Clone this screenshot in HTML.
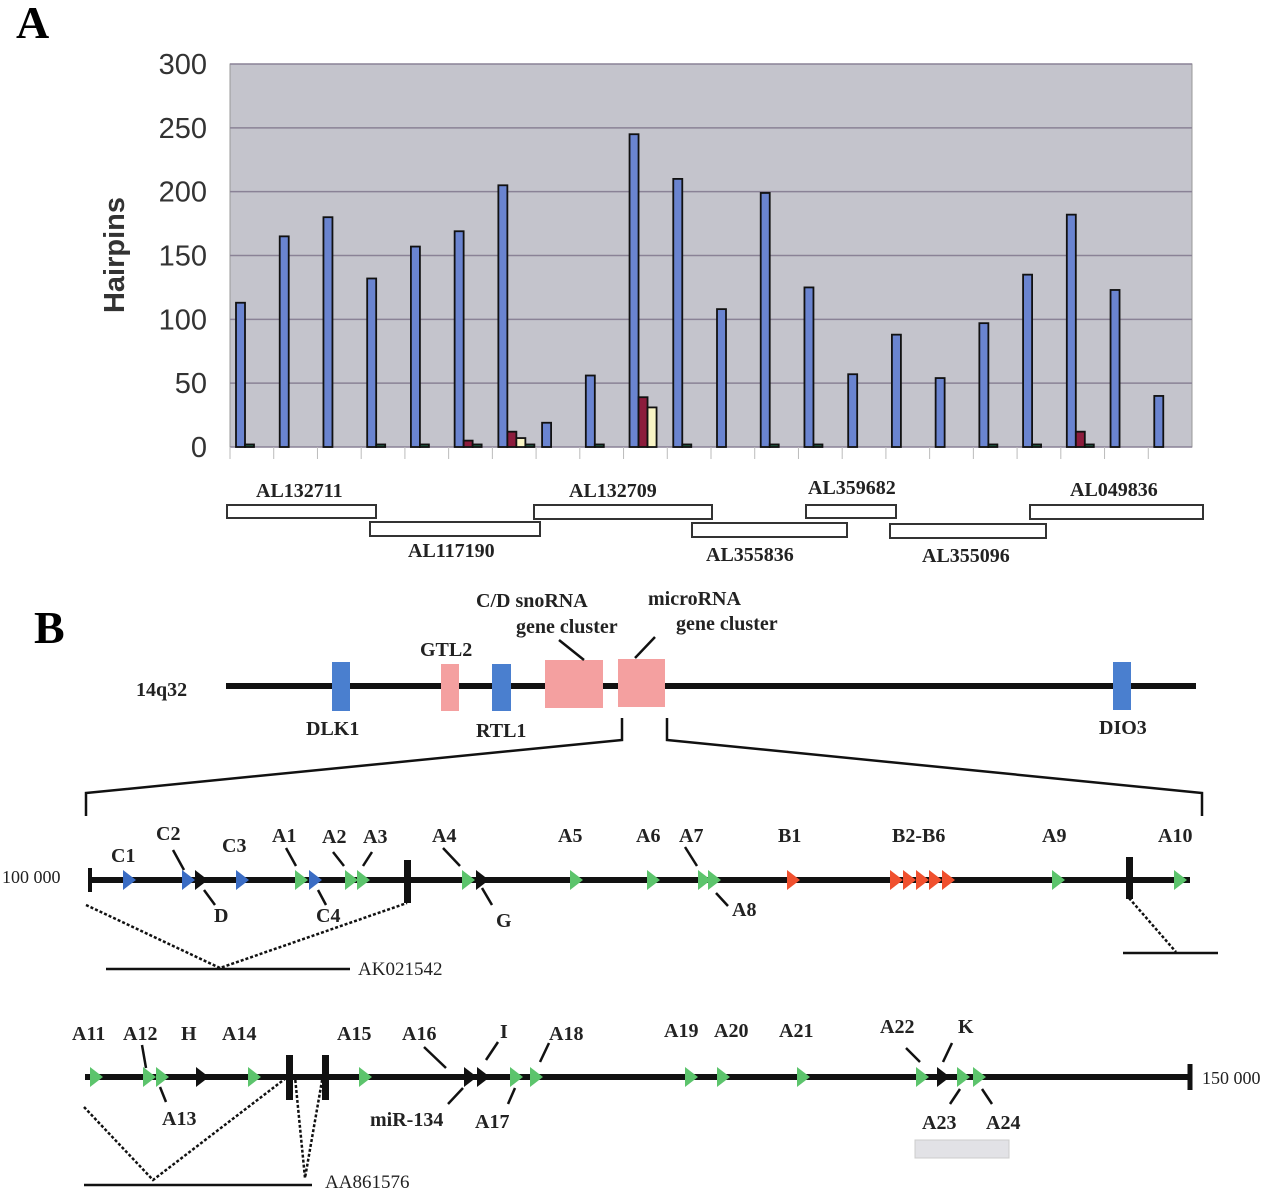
<!DOCTYPE html>
<html><head><meta charset="utf-8"><style>
body{margin:0;background:#fff;}
svg{display:block;font-family:"Liberation Serif",serif;}
.b{font-weight:bold;font-size:20px;fill:#222;}
.ax{font-family:"Liberation Sans",sans-serif;font-size:29px;fill:#333;}
</style></head><body>
<svg id="fig" width="1280" height="1191" viewBox="0 0 1280 1191" xmlns="http://www.w3.org/2000/svg">
<text x="16" y="38" font-size="46" font-weight="bold">A</text>
<rect x="230" y="64" width="962" height="383" fill="#c4c4cc" stroke="#999"/>
<g id="grid"></g>
<g id="yt"></g>
<text class="ax" font-weight="bold" font-size="30" transform="translate(124,255) rotate(-90)" text-anchor="middle">Hairpins</text>
<g id="bars"></g>
<g id="xt"></g>
<g fill="#fff" stroke="#333" stroke-width="2">
<rect x="227" y="505" width="149" height="13"/><rect x="370" y="522" width="170" height="14"/><rect x="534" y="505" width="178" height="14"/><rect x="692" y="523" width="155" height="14"/><rect x="806" y="505" width="90" height="13"/><rect x="890" y="524" width="156" height="14"/><rect x="1030" y="505" width="173" height="14"/>
</g>
<g class="b" font-size="17">
<text x="256" y="497">AL132711</text>
<text x="408" y="557">AL117190</text>
<text x="569" y="497">AL132709</text>
<text x="706" y="561">AL355836</text>
<text x="808" y="494">AL359682</text>
<text x="922" y="562">AL355096</text>
<text x="1070" y="496">AL049836</text>
</g>
<text x="34" y="643" font-size="46" font-weight="bold">B</text>
<text x="136" y="696" class="b" font-size="27">14q32</text>
<line x1="226" y1="686" x2="1196" y2="686" stroke="#111" stroke-width="6"/>
<rect x="332" y="662" width="18" height="49" fill="#4a7fcf"/>
<rect x="441" y="664" width="18" height="47" fill="#f4a0a0"/>
<rect x="492" y="664" width="19" height="47" fill="#4a7fcf"/>
<rect x="545" y="660" width="58" height="48" fill="#f4a0a0"/>
<rect x="618" y="659" width="47" height="48" fill="#f4a0a0"/>
<rect x="1113" y="662" width="18" height="48" fill="#4a7fcf"/>
<g class="b">
<text x="306" y="735">DLK1</text>
<text x="420" y="656">GTL2</text>
<text x="476" y="737">RTL1</text>
<text x="1099" y="734">DIO3</text>
<text x="476" y="607">C/D snoRNA</text>
<text x="516" y="633">gene cluster</text>
<text x="648" y="605">microRNA</text>
<text x="676" y="630">gene cluster</text>
</g>
<g stroke="#111" stroke-width="2.5" fill="none">
<line x1="559" y1="640" x2="584" y2="660"/><line x1="655" y1="637" x2="635" y2="658"/>
<polyline points="622,718 622,740 86,793 86,816"/>
<polyline points="667,718 667,740 1202,793 1202,816"/>
</g>
<line x1="90" y1="880" x2="1190" y2="880" stroke="#111" stroke-width="6"/>
<line x1="90" y1="868" x2="90" y2="892" stroke="#111" stroke-width="4"/>
<rect x="404" y="860" width="7" height="43" fill="#111"/>
<rect x="1126" y="857" width="7" height="42" fill="#111"/>
<text x="2" y="883" font-size="18" fill="#222">100 000</text>
<line x1="85" y1="1077" x2="1190" y2="1077" stroke="#111" stroke-width="6"/>
<line x1="1190" y1="1064" x2="1190" y2="1090" stroke="#111" stroke-width="5"/>
<rect x="286" y="1055" width="7" height="45" fill="#111"/>
<rect x="322" y="1055" width="7" height="45" fill="#111"/>
<text x="1202" y="1084" font-size="18" fill="#222">150 000</text>
<rect x="915" y="1140" width="94" height="18" fill="#e2e2e6" stroke="#ccc"/>
<g stroke="#111" stroke-width="2.5" stroke-dasharray="3,2" fill="none">
<polyline points="86,905 220,968 407,903"/><polyline points="1129,898 1176,952"/>
<polyline points="84,1107 153,1180 290,1075"/><polyline points="323,1075 305,1178 295,1077"/>
</g>
<g stroke="#111" stroke-width="2.5">
<line x1="106" y1="969" x2="350" y2="969"/><line x1="1123" y1="953" x2="1218" y2="953"/><line x1="84" y1="1185" x2="312" y2="1185"/>
</g>
<text x="358" y="975" font-size="19" fill="#222">AK021542</text>
<text x="325" y="1188" font-size="19" fill="#222">AA861576</text>
<g id="marks"></g>
<g stroke="#111" stroke-width="2.5">
<line x1="173" y1="850" x2="184" y2="870"/><line x1="204" y1="890" x2="215" y2="905"/><line x1="286" y1="848" x2="296" y2="866"/><line x1="318" y1="890" x2="326" y2="905"/>
<line x1="333" y1="852" x2="344" y2="866"/><line x1="372" y1="852" x2="363" y2="866"/><line x1="443" y1="848" x2="460" y2="866"/><line x1="482" y1="888" x2="492" y2="905"/>
<line x1="685" y1="847" x2="697" y2="866"/><line x1="716" y1="893" x2="728" y2="906"/>
<line x1="142" y1="1045" x2="146" y2="1068"/><line x1="160" y1="1087" x2="166" y2="1102"/><line x1="424" y1="1047" x2="446" y2="1068"/><line x1="486" y1="1060" x2="498" y2="1042"/>
<line x1="463" y1="1088" x2="448" y2="1104"/><line x1="515" y1="1088" x2="508" y2="1104"/><line x1="540" y1="1062" x2="549" y2="1043"/>
<line x1="906" y1="1048" x2="920" y2="1062"/><line x1="943" y1="1062" x2="952" y2="1043"/><line x1="960" y1="1089" x2="950" y2="1104"/><line x1="982" y1="1089" x2="992" y2="1104"/>
</g>
<g class="b" font-size="21">
<text x="111" y="862">C1</text><text x="156" y="840">C2</text><text x="214" y="922">D</text><text x="222" y="852">C3</text><text x="272" y="842">A1</text><text x="316" y="922">C4</text><text x="322" y="843">A2</text><text x="363" y="843">A3</text><text x="432" y="842">A4</text><text x="496" y="927">G</text><text x="558" y="842">A5</text><text x="636" y="842">A6</text><text x="679" y="842">A7</text><text x="732" y="916">A8</text><text x="778" y="842">B1</text><text x="892" y="842">B2-B6</text><text x="1042" y="842">A9</text><text x="1158" y="842">A10</text>
<text x="72" y="1040">A11</text><text x="123" y="1040">A12</text><text x="181" y="1040">H</text><text x="162" y="1125">A13</text><text x="222" y="1040">A14</text><text x="337" y="1040">A15</text><text x="402" y="1040">A16</text><text x="500" y="1038">I</text><text x="549" y="1040">A18</text><text x="370" y="1126">miR-134</text><text x="475" y="1128">A17</text><text x="664" y="1037">A19</text><text x="714" y="1037">A20</text><text x="779" y="1037">A21</text><text x="880" y="1033">A22</text><text x="958" y="1033">K</text><text x="922" y="1129">A23</text><text x="986" y="1129">A24</text>
</g>
</svg>
<script>
const categories=["1","2","3","4","5","6","7","8","9","10","11","12","13","14","15","16","17","18","19","20","21","22"];
const blueValues=[113,165,180,132,157,169,205,19,56,245,210,108,199,125,57,88,54,97,135,182,123,40];
const redValues=[0,0,0,0,0,5,12,0,0,39,0,0,0,0,0,0,0,0,0,12,0,0];
const yellowValues=[0,0,0,0,0,0,7,0,0,31,0,0,0,0,0,0,0,0,0,0,0,0];
const greenValues=[2,0,0,2,2,2,2,0,2,0,2,0,2,2,0,0,0,2,2,2,0,0];
const yTicks=[0,50,100,150,200,250,300];
const NS="http://www.w3.org/2000/svg";
const X0=230,X1=1192,Y0=447,Y1=64;
const slot=(X1-X0)/categories.length;
function y(v){return Y0-(v/300)*(Y0-Y1);}
function xs(i){return X0+i*slot;}
function mk(t,a,p){const e=document.createElementNS(NS,t);for(const k in a)e.setAttribute(k,a[k]);p.appendChild(e);return e;}
const grid=document.getElementById('grid'),yt=document.getElementById('yt'),bars=document.getElementById('bars'),xt=document.getElementById('xt');
yTicks.forEach(v=>{
 const l=mk('line',{x1:X0,x2:X1,y1:y(v),y2:y(v),stroke:'#8a8296','stroke-width':1.5},grid);
 
 
 const t=mk('text',{x:207,y:y(v)+10,'text-anchor':'end',class:'ax'},yt);
 t.textContent=v;
 
 
});
categories.forEach((c,i)=>{
 const tk=mk('line',{x1:xs(i),x2:xs(i),y1:Y0,y2:Y0+12,stroke:'#bbb','stroke-width':1},xt);
 
 
 const series=[[blueValues,'#6a84d0','blue'],[redValues,'#8c1c3c','red'],[yellowValues,'#f8f4c4','yellow'],[greenValues,'#1e6a4a','green']];
 let off=6;
 series.forEach(([arr,col,nm])=>{
  const v=arr[i];
  if(v>0){
   const r=mk('rect',{x:xs(i)+off,y:y(v),width:9,height:Y0-y(v),fill:col,stroke:'#111','stroke-width':1.8},bars);
   
   
   off+=9;
  }
 });
});
const mg=document.getElementById('marks');
const cols={g:'#5cc46c',b:'#3a6cc4',r:'#f0502e',k:'#111'};
const row1=[[123,'b'],[182,'b'],[195,'k'],[236,'b'],[295,'g'],[309,'b'],[345,'g'],[357,'g'],[462,'g'],[476,'k'],[570,'g'],[647,'g'],[698,'g'],[708,'g'],[787,'r'],[890,'r'],[903,'r'],[916,'r'],[929,'r'],[942,'r'],[1052,'g'],[1174,'g']];
const row2=[[90,'g'],[143,'g'],[156,'g'],[196,'k'],[248,'g'],[359,'g'],[464,'k'],[477,'k'],[510,'g'],[530,'g'],[685,'g'],[717,'g'],[797,'g'],[916,'g'],[937,'k'],[957,'g'],[973,'g']];
[[row1,880],[row2,1077]].forEach(([row,cy])=>row.forEach(([x,c])=>{
 const p=mk('polygon',{points:`${x},${cy-10} ${x+13},${cy} ${x},${cy+10}`,fill:cols[c]},mg);
 
 
}));
</script>
</body></html>
